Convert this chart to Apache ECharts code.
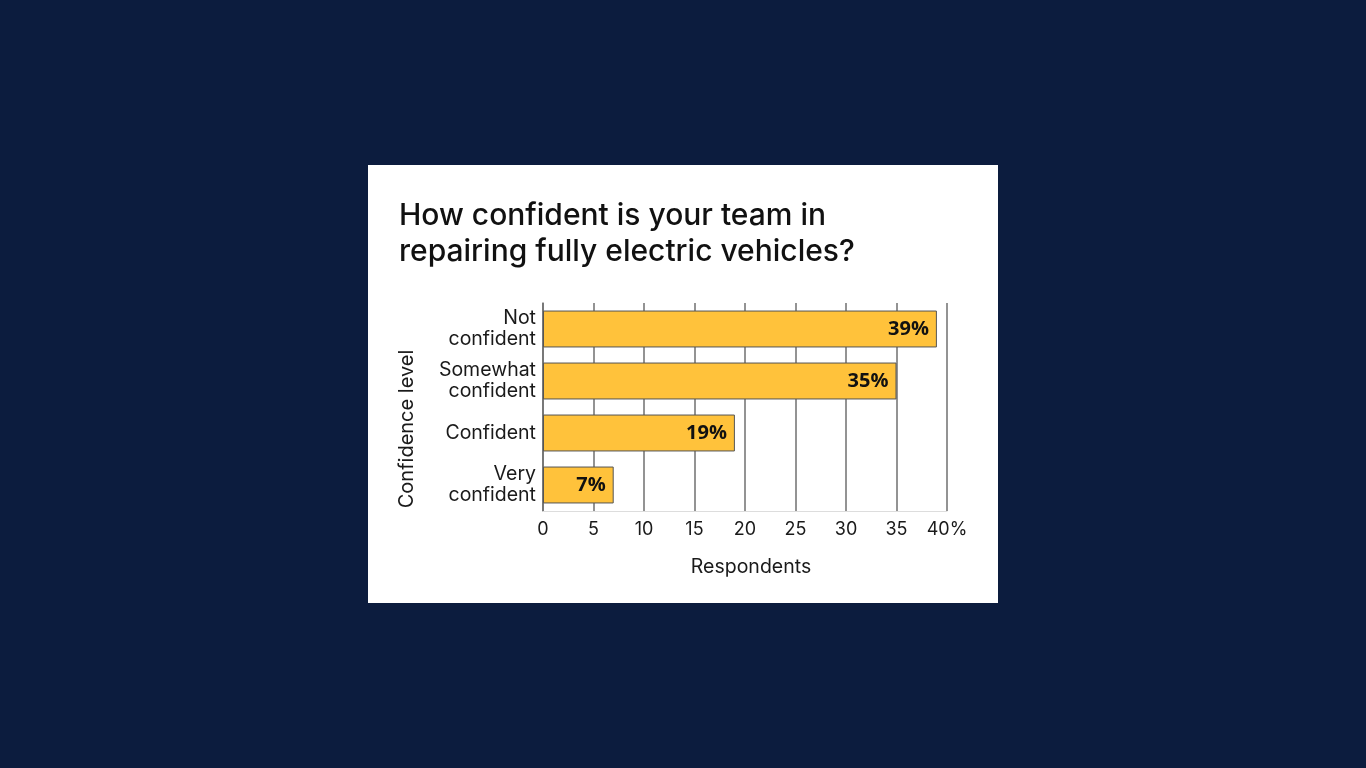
<!DOCTYPE html>
<html>
<head>
<meta charset="utf-8">
<script src="https://cdn.jsdelivr.net/npm/echarts@6/dist/echarts.min.js"></script>
<style>
html,body{margin:0;padding:0;background:#0c1c3e;}
#chart{width:1366px;height:768px;}
</style>
</head>
<body>
<div id="chart"></div>
<script>
const categories = ['Not\nconfident', 'Somewhat\nconfident', 'Confident', 'Very\nconfident'];
const values = [39, 35, 19, 7];
const xTicks = [0, 5, 10, 15, 20, 25, 30, 35, 40];
const titleText = 'How confident is your team in\nrepairing fully electric vehicles?';

const FONT = 'Inter';
const chart = echarts.init(document.getElementById('chart'));
chart.setOption({
  backgroundColor: '#0c1c3e',
  animation: false,
  graphic: [
    { type: 'rect', shape: { x: 368, y: 165, width: 630, height: 438 }, style: { fill: '#ffffff' }, z: -10 },
    { type: 'text', x: 407, y: 429, rotation: Math.PI / 2, style: { text: 'Confidence level', fill: '#1a1a1a', font: '20px Inter', textAlign: 'center', textVerticalAlign: 'middle' } }
  ],
  title: {
    text: titleText,
    left: 399, top: 198, padding: 0,
    textStyle: { fontFamily: FONT, fontWeight: 500, fontSize: 30, lineHeight: 36, color: '#111' }
  },
  grid: { left: 543, top: 303, width: 404, height: 208 },
  xAxis: {
    type: 'value', min: 0, max: 40, interval: 5,
    name: 'Respondents', nameLocation: 'middle', nameGap: 46,
    nameTextStyle: { fontFamily: FONT, fontSize: 19.5, color: '#1a1a1a', padding: [0, 0, 0, 12] },
    axisLine: { show: true, lineStyle: { color: '#dddddd', width: 1 } },
    axisTick: { show: false },
    splitLine: { show: true, lineStyle: { color: '#6f6f6f', width: 1.5 } },
    axisLabel: { fontFamily: FONT, fontSize: 18, color: '#1a1a1a', margin: 10,
      formatter: v => (v === xTicks[xTicks.length - 1] ? v + '%' : String(v)) }
  },
  yAxis: {
    type: 'category', inverse: true, data: categories,
    axisLine: { show: true, lineStyle: { color: '#6f6f6f', width: 1.5 } },
    axisTick: { show: false },
    axisLabel: { fontFamily: FONT, fontSize: 19.5, lineHeight: 21, color: '#1a1a1a', margin: 7, align: 'right' }
  },
  series: [{
    type: 'bar', data: values, barCategoryGap: '29%',
    itemStyle: { color: '#ffc23b', borderColor: '#555', borderWidth: 1 },
    label: { show: true, position: 'insideRight', distance: 8, formatter: p => p.value + '%',
      fontFamily: 'Open Sans', fontWeight: 'bold', fontSize: 20, color: '#111' }
  }]
});
</script>
</body>
</html>
